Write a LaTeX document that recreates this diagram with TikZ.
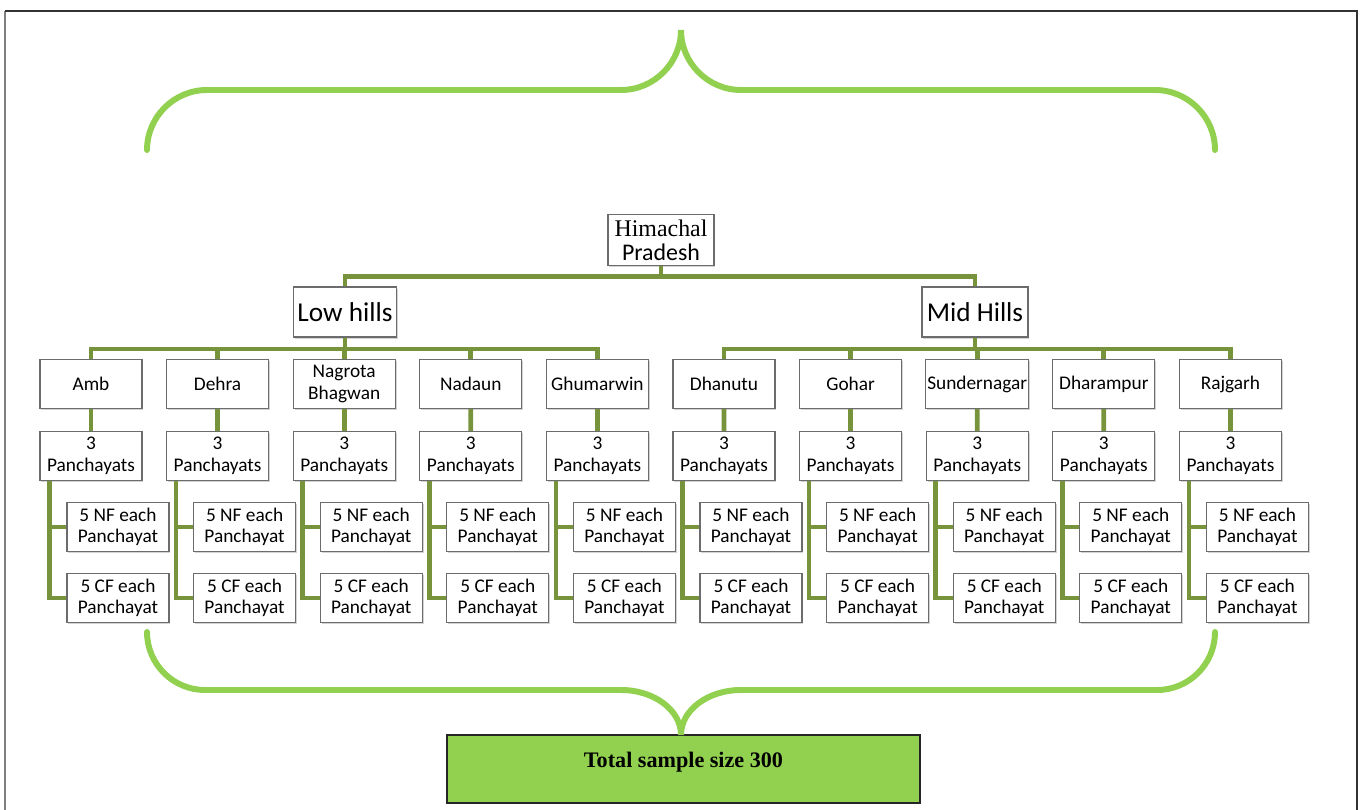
\documentclass[tikz,border=0pt]{standalone}
\usepackage{fontspec}
\newfontfamily\carlito{Carlito}
\newfontfamily\timesr{Liberation Serif}
\usetikzlibrary{shadows}
\definecolor{leaf}{HTML}{92D050}
\definecolor{olive}{HTML}{77933C}

\begin{document}
\begin{tikzpicture}[x=0.02cm,y=-0.02cm,
		box/.style={draw=gray!85!black, fill=white, line width=0.6pt,
			drop shadow={opacity=0.35, shadow xshift=0.8pt, shadow yshift=-1pt},
			align=center, font=\carlito\fontsize{11}{12.3}\selectfont,
			minimum width=2.04cm, minimum height=0.98cm, inner sep=1pt},
		link/.style={olive, line width=2.7pt},
		brace/.style={leaf, line width=3.4pt, line cap=round}]
		\useasboundingbox (0,0) rectangle (1362,810);
		% frame
		\draw[gray, line width=1.2pt] (5,11) -- (5,810);
		\draw[black!80, line width=1pt] (5,11) -- (1357,11) -- (1357,810);
		% top brace
		\coordinate (tipT) at (681,30);
		\draw[brace] (147,150) .. controls (147,117) and (174,90) .. (207,90) -- (621,90)
			.. controls (654,90) and (681,63) .. (tipT)
			.. controls (681,63) and (708,90) .. (741,90) -- (1155,90)
			.. controls (1188,90) and (1215,117) .. (1215,150);
		% tree
		\node[box, minimum width=2.12cm, minimum height=1.02cm, inner sep=0pt,
			font=\fontsize{13.6}{13.6}\selectfont] (HP) at (661,240) {{\timesr Himachal}\\{\carlito Pradesh}};
		\node[box, minimum width=2.06cm, minimum height=1cm, font=\carlito\fontsize{15.5}{18}\selectfont] (LH) at (345,312) {Low hills};
		\node[box, minimum width=2.12cm, minimum height=1cm, font=\carlito\fontsize{15.5}{18}\selectfont] (MH) at (975,312) {Mid Hills};
		\draw[link] (HP.south) -- ++(0,10.5) -| (LH.north);
		\draw[link] (HP.south) -- ++(0,10.5) -| (MH.north);
		\node[box] (D1) at (91,384) {Amb};
		\node[box] (D2) at (217.6,384) {Dehra};
		\node[box] (D3) at (344.2,384) {Nagrota\\Bhagwan};
		\node[box] (D4) at (470.8,384) {Nadaun};
		\node[box] (D5) at (597.4,384) {Ghumarwin};
		\node[box] (D6) at (724,384) {Dhanutu};
		\node[box] (D7) at (850.6,384) {Gohar};
		\node[box] (D8) at (977.2,384) {Sundernagar};
		\node[box] (D9) at (1103.8,384) {Dharampur};
		\node[box] (D10) at (1230.4,384) {Rajgarh};
		\foreach \i in {1,...,5}
			\draw[link] (LH.south) -- ++(0,11.5) -| (D\i.north);
		\foreach \i in {6,...,10}
			\draw[link] (MH.south) -- ++(0,11.5) -| (D\i.north);
		\foreach \i in {1,...,10}{
			\pgfmathsetmacro\xx{91+126.6*(\i-1)}
			\node[box] (P\i) at (\xx,456) {3\\Panchayats};
			\node[box] (NF\i) at (\xx+27,527) {5 NF each\\Panchayat};
			\node[box] (CF\i) at (\xx+27,598) {5 CF each\\Panchayat};
			\draw[link] (D\i) -- (P\i);
			\draw[link] ([xshift=0.2cm]P\i.south west) |- (NF\i.west);
			\draw[link] ([xshift=0.2cm]P\i.south west) |- (CF\i.west);
		}
		% bottom brace and total
		\node[draw=black!85, line width=1pt, fill=leaf, minimum width=9.46cm, inner ysep=0pt,
			text height=0.64cm, text depth=0.72cm,
			font=\timesr\bfseries\fontsize{12.6}{14}\selectfont] (total) at (683.5,769) {Total sample size 300};
		\coordinate (tipB) at (681,735);
		\draw[brace] (147,632) .. controls (147,664) and (173,690) .. (205,690) -- (621,690)
			.. controls (654,690) and (681,710) .. (tipB)
			.. controls (681,710) and (708,690) .. (741,690) -- (1157,690)
			.. controls (1189,690) and (1215,664) .. (1215,632);
	\end{tikzpicture}
\end{document}
